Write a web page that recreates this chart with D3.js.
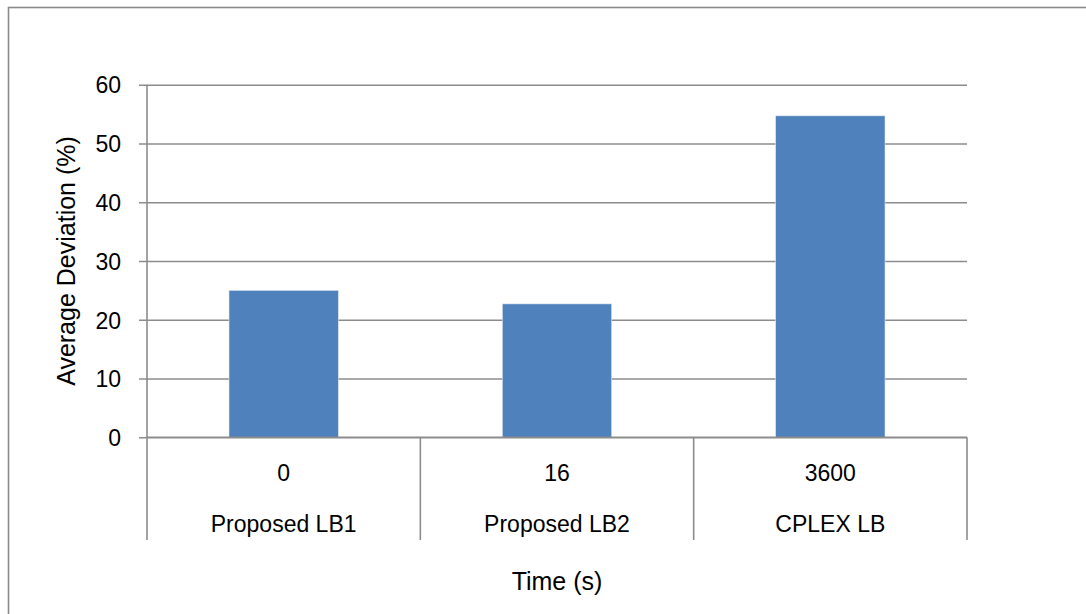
<!DOCTYPE html>
<html>
<head>
<meta charset="utf-8">
<script src="https://cdn.jsdelivr.net/npm/d3@7"></script>
<style>
  html, body { margin: 0; padding: 0; background: #ffffff; }
  svg { display: block; font-family: "Liberation Sans", Arial, sans-serif; }
</style>
</head>
<body>
<svg id="chart" width="1086" height="614"></svg>
<script>
// Bar chart: average deviation of each lower bound, grouped by solve time
const categories = ["Proposed LB1", "Proposed LB2", "CPLEX LB"];
const times = ["0", "16", "3600"];
const deviations = [25.0, 22.7, 54.7];
const yTicks = [0, 10, 20, 30, 40, 50, 60];
const yTitle = "Average Deviation (%)";
const xTitle = "Time (s)";

const svg = d3.select("#chart");
const W = 1086, H = 614;

const plot = { left: 147, right: 967, top: 84.7, bottom: 437.3 };
const axisColor = "#8c8c8c";
const barColor = "#4f81bd";

// Outer chart frame (runs past the right and bottom edges of the page)
svg.append("rect")
  .attr("x", 8.5).attr("y", 7.5)
  .attr("width", W + 20).attr("height", H + 20)
  .attr("fill", "none")
  .attr("stroke", "#8a8a8a")
  .attr("stroke-width", 1.6);

const x = d3.scaleBand()
  .domain(categories)
  .range([plot.left, plot.right])
  .paddingInner(0.6)
  .paddingOuter(0.3);

const y = d3.scaleLinear()
  .domain([0, 60])
  .range([plot.bottom, plot.top]);

// Horizontal gridlines with outward tick marks
const yAxis = d3.axisLeft(y)
  .tickValues(yTicks)
  .tickSize(-(plot.right - plot.left))
  .tickSizeOuter(0)
  .tickPadding(26)
  .tickFormat(d3.format("d"));

const gy = svg.append("g")
  .attr("transform", `translate(${plot.left},0)`)
  .call(yAxis);
gy.select(".domain").remove();
gy.selectAll(".tick line")
  .attr("x1", -8)
  .attr("stroke", axisColor)
  .attr("stroke-width", 1.6);
gy.selectAll(".tick text")
  .attr("fill", "#000")
  .attr("font-size", 23)
  .attr("font-family", "Liberation Sans, Arial, sans-serif")
  .attr("dy", "0.36em");

// Bars
svg.append("g")
  .selectAll("rect")
  .data(deviations)
  .join("rect")
  .attr("x", (d, i) => x(categories[i]))
  .attr("y", d => y(d))
  .attr("width", x.bandwidth())
  .attr("height", d => y(0) - y(d))
  .attr("fill", barColor)
  .attr("stroke", "#dce6f2")
  .attr("stroke-width", 0.6);

// Vertical value axis line, continued down through the category label rows
const labelBottom = 540;
svg.append("line")
  .attr("x1", plot.left).attr("x2", plot.left)
  .attr("y1", plot.top).attr("y2", labelBottom)
  .attr("stroke", axisColor).attr("stroke-width", 1.6);

// Category axis line
svg.append("line")
  .attr("x1", plot.left).attr("x2", plot.right)
  .attr("y1", plot.bottom).attr("y2", plot.bottom)
  .attr("stroke", axisColor).attr("stroke-width", 1.6);

// Separators between category groups
const step = x.step();
const bounds = d3.range(categories.length + 1).map(i => plot.left + i * step);
svg.append("g")
  .selectAll("line")
  .data(bounds.slice(1))
  .join("line")
  .attr("x1", d => d).attr("x2", d => d)
  .attr("y1", plot.bottom).attr("y2", labelBottom)
  .attr("stroke", axisColor).attr("stroke-width", 1.6);

const centers = categories.map(c => x(c) + x.bandwidth() / 2);

// First label row: solve time
svg.append("g")
  .selectAll("text")
  .data(times)
  .join("text")
  .attr("x", (d, i) => centers[i])
  .attr("y", 481)
  .attr("text-anchor", "middle")
  .attr("font-size", 23)
  .attr("fill", "#000")
  .text(d => d);

// Second label row: method
svg.append("g")
  .selectAll("text")
  .data(categories)
  .join("text")
  .attr("x", (d, i) => centers[i])
  .attr("y", 532)
  .attr("text-anchor", "middle")
  .attr("font-size", 23)
  .attr("fill", "#000")
  .text(d => d);

// Axis titles
svg.append("text")
  .attr("x", (plot.left + plot.right) / 2)
  .attr("y", 590)
  .attr("text-anchor", "middle")
  .attr("font-size", 25)
  .attr("fill", "#000")
  .text(xTitle);

svg.append("text")
  .attr("transform", `translate(75,${(plot.top + plot.bottom) / 2}) rotate(-90)`)
  .attr("text-anchor", "middle")
  .attr("font-size", 25)
  .attr("fill", "#000")
  .text(yTitle);
</script>
</body>
</html>
